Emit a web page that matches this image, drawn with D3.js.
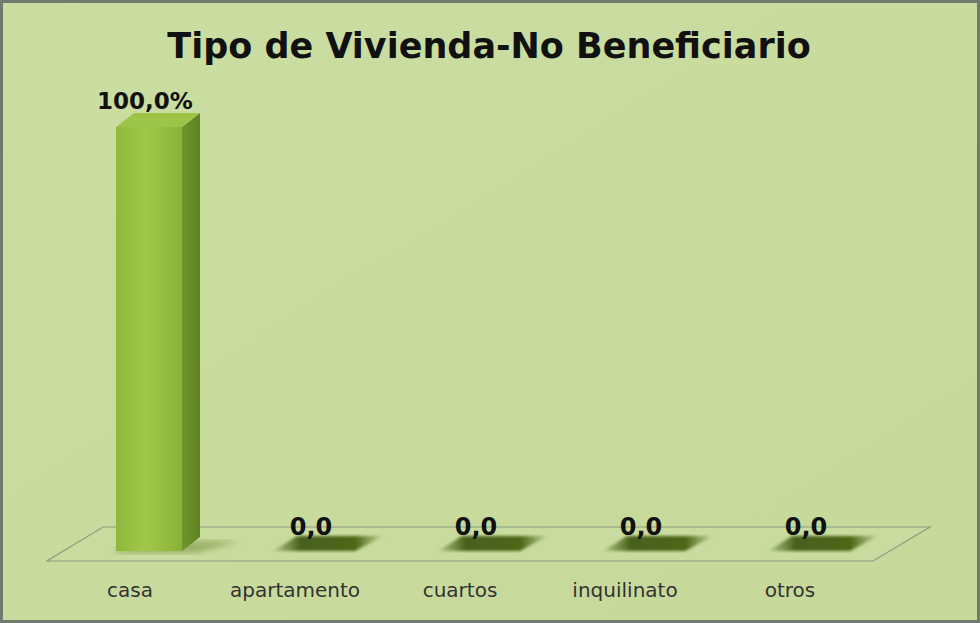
<!DOCTYPE html>
<html><head><meta charset="utf-8">
<script src="https://cdn.jsdelivr.net/npm/d3@7/dist/d3.min.js"></script>
<style>body{margin:0;background:#fff}svg{display:block}</style>
</head><body>
<script>
const categories = ["casa","apartamento","cuartos","inquilinato","otros"];
const values = [100.0, 0.0, 0.0, 0.0, 0.0];
const valueLabels = ["100,0%","0,0","0,0","0,0","0,0"];
const title = "Tipo de Vivienda-No Beneficiario";

const W = 980, H = 623;
const svg = d3.select("body").append("svg").attr("width", W).attr("height", H);
const defs = svg.append("defs");

const bg = defs.append("linearGradient").attr("id","bg").attr("x1",0).attr("y1",0).attr("x2",1).attr("y2",1);
bg.append("stop").attr("offset","0%").attr("stop-color","#cbdea2");
bg.append("stop").attr("offset","100%").attr("stop-color","#c6d99a");

const front = defs.append("linearGradient").attr("id","front").attr("x1",0).attr("x2",1);
front.append("stop").attr("offset","0%").attr("stop-color","#8fb73c");
front.append("stop").attr("offset","45%").attr("stop-color","#a0c848");
front.append("stop").attr("offset","100%").attr("stop-color","#8ab238");
const side = defs.append("linearGradient").attr("id","side").attr("x1",0).attr("x2",1);
side.append("stop").attr("offset","0%").attr("stop-color","#6e9429");
side.append("stop").attr("offset","100%").attr("stop-color","#5e8222");
const flat = defs.append("linearGradient").attr("id","flat").attr("x1",0).attr("x2",1);
flat.append("stop").attr("offset","0%").attr("stop-color","#4f6a1c").attr("stop-opacity",0.15);
flat.append("stop").attr("offset","25%").attr("stop-color","#46601a");
flat.append("stop").attr("offset","75%").attr("stop-color","#4c6719");
flat.append("stop").attr("offset","100%").attr("stop-color","#5a7522").attr("stop-opacity",0.1);
defs.append("filter").attr("id","blur").append("feGaussianBlur").attr("stdDeviation",3);
defs.append("filter").attr("id","blur2").append("feGaussianBlur").attr("stdDeviation",1.6);

svg.append("rect").attr("x",1.5).attr("y",1.5).attr("width",W-3).attr("height",H-3)
  .attr("fill","url(#bg)").attr("stroke","#707b6e").attr("stroke-width",3);

svg.append("text").attr("x",489).attr("y",58).attr("text-anchor","middle")
  .attr("font-family","DejaVu Sans").attr("font-weight","bold").attr("font-size",35)
  .attr("fill","#111").text(title);

// scales
const x = d3.scaleBand().domain(categories).range([47.5, 872.5]).paddingInner(0.6).paddingOuter(0.3);
const y = d3.scaleLinear().domain([0,100]).range([551,127]);
const dx = 18, dy = -14;
const barShift = 19;
const floorFront = 561, floorBack = 527;

// floor
const floorPts = [[47,floorFront],[873,floorFront],[930,floorBack],[103,floorBack]];
svg.append("polygon").attr("points",floorPts.map(p=>p.join(",")).join(" "))
  .attr("fill","#c9dc9f").attr("stroke","#8e9b84").attr("stroke-width",1.2);

const g = svg.append("g");
categories.forEach((c,i)=>{
  const x0 = x(c) + barShift, bw = x.bandwidth();
  const v = values[i];
  const yt = y(v), yb = y(0);
  if (v > 0) {
    g.append("polygon").attr("points",[[x0-4,yb+2],[x0+bw+14,yb+2],[x0+bw+dx+40,yb+dy+4],[x0+dx,yb+dy+4]].map(p=>p.join(",")).join(" "))
      .attr("fill","#6f8c38").attr("opacity",0.55).attr("filter","url(#blur)");
    g.append("polygon").attr("points",[[x0+bw,yt],[x0+bw+dx,yt+dy],[x0+bw+dx,yb+dy],[x0+bw,yb]].map(p=>p.join(",")).join(" "))
      .attr("fill","url(#side)");
    g.append("polygon").attr("points",[[x0,yt],[x0+bw,yt],[x0+bw+dx,yt+dy],[x0+dx,yt+dy]].map(p=>p.join(",")).join(" "))
      .attr("fill","#9cc548");
    g.append("rect").attr("x",x0).attr("y",yt).attr("width",bw).attr("height",yb-yt)
      .attr("fill","url(#front)");
    g.append("text").attr("x",x0+bw/2 - 4).attr("y",yt-18).attr("text-anchor","middle")
      .attr("font-family","DejaVu Sans").attr("font-weight","bold").attr("font-size",23)
      .attr("fill","#111").text(valueLabels[i]);
  } else {
    g.append("polygon").attr("points",[[x0-8,yb],[x0+bw+8,yb],[x0+bw+dx+18,yb+dy-1],[x0+dx-2,yb+dy-1]].map(p=>p.join(",")).join(" "))
      .attr("fill","url(#flat)").attr("filter","url(#blur2)");
    g.append("text").attr("x",x0+bw/2-3).attr("y",yb+dy-2).attr("text-anchor","middle")
      .attr("font-family","DejaVu Sans").attr("font-weight","bold").attr("font-size",24)
      .attr("fill","#111").text(valueLabels[i]);
  }
});

// category labels
const xAxis = d3.axisBottom(x).tickSize(0).tickPadding(0);
const ax = svg.append("g").attr("transform","translate(0,597)").call(xAxis);
ax.select(".domain").remove();
ax.selectAll("text").attr("font-family","DejaVu Sans").attr("font-size",20).attr("fill","#333").attr("dy","0");
</script>
</body></html>
